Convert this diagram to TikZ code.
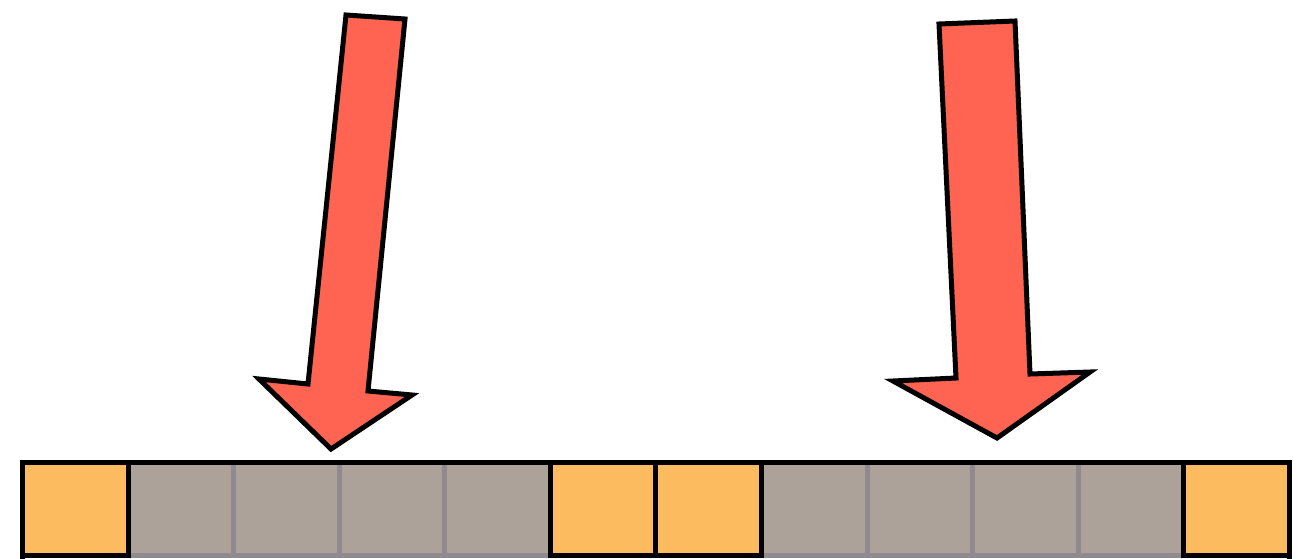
\documentclass[tikz,border=0pt]{standalone}
\definecolor{arrowred}{RGB}{255,99,82}
\definecolor{cellorange}{RGB}{253,187,95}
\definecolor{cellgray}{RGB}{173,162,154}
\definecolor{cellgrayline}{RGB}{142,138,144}
\tikzset{
  bigarrow/.style={fill=arrowred, draw=black, line width=5pt, line join=miter, miter limit=10},
  graycell/.style={fill=cellgray, draw=cellgrayline, line width=5pt},
  orangecell/.style={fill=cellorange, draw=black, line width=5pt},
  barframe/.style={draw=black, line width=5pt}
}
\begin{document}
\begin{tikzpicture}[x=1pt,y=-1pt]
\useasboundingbox (0,0) rectangle (1312,558);
% cells
\foreach \i in {1,2,3,4,7,8,9,10}{
  \draw[graycell] ({22.5+\i*105.58},462.5) rectangle ({22.5+(\i+1)*105.58},555.8);
}
\draw[barframe] (22.5,562) -- (22.5,462.5) -- (1289.5,462.5) -- (1289.5,562);
\foreach \i in {0,5,6,11}{
  \draw[orangecell] ({22.5+\i*105.58},462.5) rectangle ({22.5+(\i+1)*105.58},555.8);
}
% left arrow
\draw[bigarrow] (346,15) -- (405,19) -- (368,391) -- (412,395) -- (331,449)
  -- (259,379) -- (308,384) -- cycle;
% right arrow
\draw[bigarrow] (939,24) -- (1015,21) -- (1030,374) -- (1090,372) -- (997,438)
  -- (893,381) -- (956,378) -- cycle;
\end{tikzpicture}
\end{document}
